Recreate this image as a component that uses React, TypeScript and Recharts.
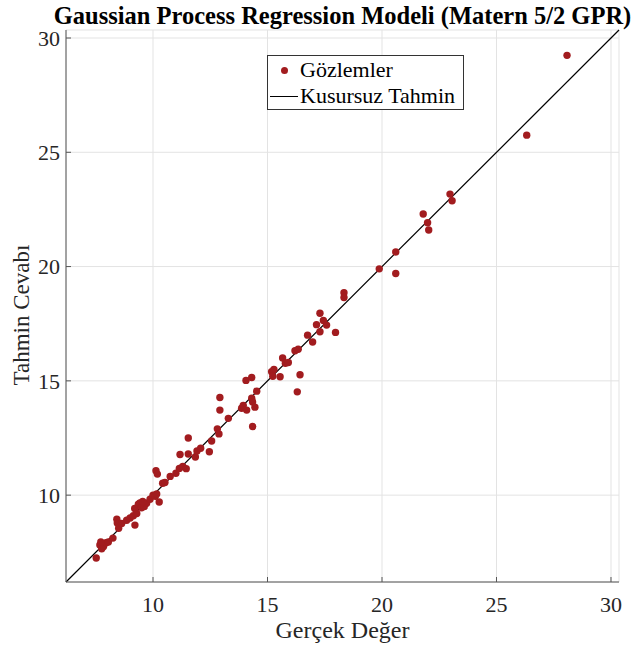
import React from 'react';
import {
  ScatterChart, Scatter, XAxis, YAxis, CartesianGrid, ReferenceLine,
} from 'recharts';

// gerçek değerler (x) ve model tahminleri (y)
const actual = [
  7.52, 7.68, 7.76, 7.84, 7.95, 8.05, 7.72, 8.25, 8.42, 8.44,
  8.5, 8.63, 8.85, 9.0, 9.14, 9.21, 9.29, 9.2, 9.36, 9.43,
  9.5, 9.62, 9.72, 9.55, 9.87, 10.0, 10.1, 10.16, 10.27, 10.13,
  10.19, 10.42, 10.52, 10.75, 11.0, 11.15, 11.3, 11.45, 11.18, 11.54,
  11.54, 11.85, 11.92, 12.08, 12.46, 12.56, 12.81, 12.88, 12.92, 12.92,
  13.29, 13.87, 13.94, 14.09, 14.06, 14.31, 14.31, 14.35, 14.45, 14.35,
  14.53, 15.18, 15.28, 15.23, 15.55, 15.66, 15.78, 15.91, 16.2, 16.34,
  16.3, 16.42, 16.75, 16.97, 17.14, 17.29, 17.29, 17.44, 17.58, 17.97,
  18.34, 18.34, 19.88, 20.6, 20.6, 21.8, 21.99, 22.04, 22.97, 23.06,
  26.32, 28.08,
];
const predicted = [
  7.25, 7.82, 7.65, 7.75, 7.92, 7.95, 7.95, 8.12, 8.95, 8.78,
  8.55, 8.76, 8.9, 9.0, 9.1, 8.69, 9.2, 9.42, 9.6, 9.66,
  9.45, 9.5, 9.65, 9.72, 9.82, 10.0, 9.95, 10.05, 9.7, 11.07,
  10.92, 10.52, 10.55, 10.82, 10.96, 11.17, 11.25, 11.16, 11.78, 11.8,
  12.5, 11.67, 11.93, 12.05, 11.9, 12.37, 12.9, 12.68, 14.27, 13.72,
  13.36, 13.8, 13.92, 13.72, 15.02, 15.15, 14.24, 14.08, 13.85, 13.0,
  14.55, 15.4, 15.5, 15.2, 15.18, 16.0, 15.77, 15.8, 16.32, 16.38,
  14.52, 15.27, 17.0, 16.7, 17.46, 17.96, 17.15, 17.64, 17.44, 17.12,
  18.86, 18.65, 19.9, 20.64, 19.7, 22.3, 21.92, 21.6, 23.17, 22.88,
  25.75, 29.24,
];
const axisLimits = [6.2, 30.35];
const ticks = [10, 15, 20, 25, 30];

const data = actual.map((x, i) => ({ x, y: predicted[i] }));

const FONT = '"Liberation Serif", "Times New Roman", serif';
const DOT = '#a21c1f';

const LegendBox = () => (
  <div
    style={{
      position: 'absolute',
      left: 267,
      top: 55,
      border: '1px solid #333',
      background: '#fff',
      width: 197,
      height: 55,
      boxSizing: 'border-box',
      fontSize: 22,
      color: '#000',
      lineHeight: '26px',
      paddingTop: 1,
    }}
  >
    <div style={{ display: 'flex', alignItems: 'center' }}>
      <span style={{ width: 32, display: 'flex', justifyContent: 'center' }}>
        <span style={{ width: 7, height: 7, borderRadius: 4, background: DOT, display: 'inline-block' }} />
      </span>
      <span>Gözlemler</span>
    </div>
    <div style={{ display: 'flex', alignItems: 'center' }}>
      <span style={{ width: 28, marginLeft: 2, marginRight: 2, height: 1, background: '#000', display: 'inline-block' }} />
      <span>Kusursuz Tahmin</span>
    </div>
  </div>
);

const App: React.FC = () => (
  <div style={{ position: 'absolute', left: 0, top: 0, width: 635, height: 651, background: '#fff', fontFamily: FONT }}>
    <div
      style={{
        position: 'absolute', top: 2, left: 50, width: 585, textAlign: 'center',
        fontWeight: 'bold', fontSize: 24.5, lineHeight: '28px', color: '#000', whiteSpace: 'nowrap',
      }}
    >
      Gaussian Process Regression Modeli (Matern 5/2 GPR)
    </div>
    <ScatterChart width={635} height={651} margin={{ top: 30, right: 16, left: 0, bottom: 0 }}>
      <CartesianGrid stroke="#e3e3e3" strokeWidth={1} />
      <XAxis
        type="number" dataKey="x" domain={axisLimits} ticks={ticks} allowDataOverflow
        height={69} stroke="#555" tickSize={-5} tickMargin={19}
        tick={{ fill: '#262626', fontSize: 22, fontFamily: FONT }}
      />
      <YAxis
        type="number" dataKey="y" domain={axisLimits} ticks={ticks} allowDataOverflow
        width={66} stroke="#555" tickSize={-5} tickMargin={11}
        tick={{ fill: '#262626', fontSize: 22, fontFamily: FONT }}
      />
      <ReferenceLine
        segment={[{ x: axisLimits[0], y: axisLimits[0] }, { x: axisLimits[1], y: axisLimits[1] }]}
        stroke="#000" strokeWidth={1.2} ifOverflow="extendDomain"
      />
      <Scatter
        data={data} isAnimationActive={false}
        shape={(p: any) => <circle cx={p.cx} cy={p.cy} r={3.7} fill={DOT} />}
      />
    </ScatterChart>
    <LegendBox />
    <div style={{ position: 'absolute', left: 66, width: 553, top: 617, textAlign: 'center', fontSize: 24, color: '#262626' }}>
      Gerçek Değer
    </div>
    <div style={{ position: 'absolute', left: 22, top: 315, width: 0, height: 0 }}>
      <div style={{ position: 'absolute', transform: 'translate(-50%, -50%) rotate(-90deg)', whiteSpace: 'nowrap', fontSize: 23, color: '#262626' }}>
        Tahmin Cevabı
      </div>
    </div>
  </div>
);

export default App;
